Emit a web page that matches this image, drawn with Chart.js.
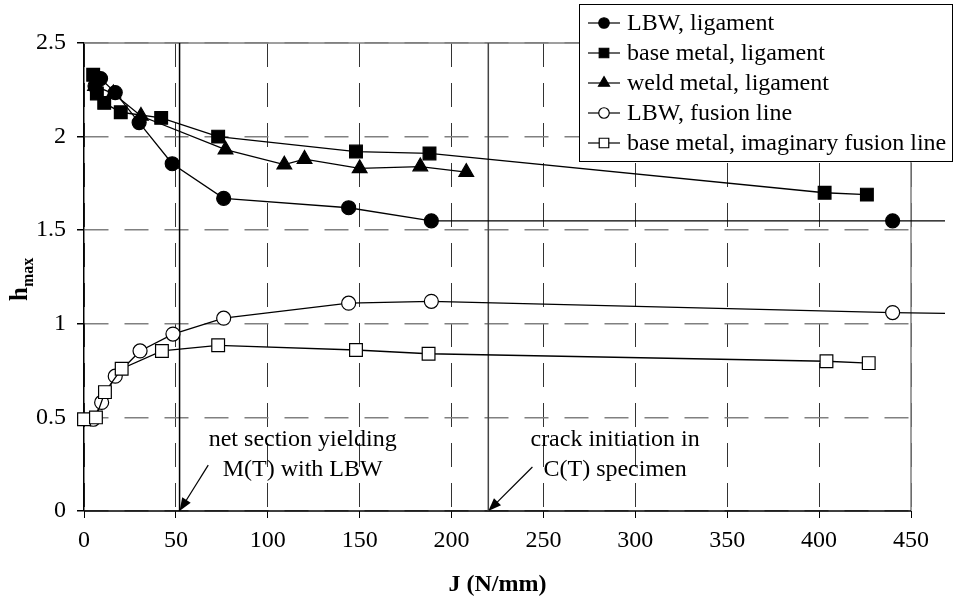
<!DOCTYPE html>
<html>
<head>
<meta charset="utf-8">
<script src="https://cdn.jsdelivr.net/npm/chart.js@4.4.0/dist/chart.umd.min.js"></script>
<style>
html, body { margin: 0; padding: 0; background: #fff; }
</style>
</head>
<body>
<canvas id="chart" width="954" height="599"></canvas>
<script>
// series (J in N/mm, h_max)
const seriesLabels = ['LBW, ligament', 'base metal, ligament', 'weld metal, ligament', 'LBW, fusion line', 'base metal, imaginary fusion line'];

const lbwLigJ = [6, 9, 17, 30, 48, 76, 144, 189, 440, 500];
const lbwLigH = [2.27, 2.31, 2.235, 2.075, 1.855, 1.67, 1.62, 1.55, 1.55, 1.55];

const baseLigJ = [5, 7, 11, 20, 42, 73, 148, 188, 403, 426];
const baseLigH = [2.33, 2.23, 2.18, 2.13, 2.10, 2.00, 1.92, 1.91, 1.70, 1.69];

const weldLigJ = [6, 16, 31, 77, 109, 120, 150, 183, 208];
const weldLigH = [2.27, 2.23, 2.11, 1.93, 1.85, 1.88, 1.83, 1.84, 1.81];

const lbwFusJ = [5, 9.6, 17, 30.5, 48.4, 76, 144, 189, 440, 500];
const lbwFusH = [0.49, 0.58, 0.72, 0.855, 0.945, 1.03, 1.11, 1.12, 1.06, 1.05];

const baseFusJ = [0, 6.5, 11.4, 20.5, 42.4, 73, 148, 187.5, 404, 427];
const baseFusH = [0.49, 0.50, 0.635, 0.76, 0.855, 0.885, 0.86, 0.84, 0.80, 0.79];

const xTickValues = [0, 50, 100, 150, 200, 250, 300, 350, 400, 450];
const xTickLabels = ['0', '50', '100', '150', '200', '250', '300', '350', '400', '450'];
const yTickValues = [0, 0.5, 1, 1.5, 2, 2.5];
const yTickLabels = ['0', '0.5', '1', '1.5', '2', '2.5'];

const xTitle = 'J (N/mm)';
const yTitleMain = 'h';
const yTitleSub = 'max';

// vertical reference lines and their notes
const markerJ = [52, 220];
const noteLines = [['net section yielding', 'M(T) with LBW'], ['crack initiation in', 'C(T) specimen']];
const noteJ = [119, 289];
const noteH = 0.38;
const arrowFrom = [[67.6, 0.245], [244, 0.235]];

const SERIF = '"Liberation Serif", "Times New Roman", serif';

function pts(js, hs) {
    return js.map((j, i) => ({ x: j, y: hs[i] }));
}

// marker look for each series
const markers = [
    { style: 'circle', r: 7, fill: '#000' },
    { style: 'rect', r: 9, fill: '#000' },
    { style: 'triangle', r: 8.5, fill: '#000' },
    { style: 'circle', r: 7, fill: '#fff' },
    { style: 'rect', r: 9, fill: '#fff' }
];
const seriesData = [
    pts(lbwLigJ, lbwLigH),
    pts(baseLigJ, baseLigH),
    pts(weldLigJ, weldLigH),
    pts(lbwFusJ, lbwFusH),
    pts(baseFusJ, baseFusH)
];

const datasets = seriesData.map((d, i) => ({
    label: seriesLabels[i],
    data: d,
    borderColor: '#000',
    borderWidth: 1.3,
    pointStyle: markers[i].style,
    pointRadius: markers[i].r,
    pointHoverRadius: markers[i].r,
    pointBackgroundColor: markers[i].fill,
    pointBorderColor: '#000',
    pointBorderWidth: 1.2,
    tension: 0,
    order: i === 4 ? -1 : 0,
    clip: { left: false, top: false, bottom: false, right: 34 }
}));

function drawMarker(ctx, style, x, y, r, fill) {
    ctx.beginPath();
    if (style === 'circle') {
        ctx.arc(x, y, r, 0, Math.PI * 2);
    } else if (style === 'rect') {
        const s = r * Math.SQRT1_2;
        ctx.rect(x - s, y - s, 2 * s, 2 * s);
    } else {
        ctx.moveTo(x, y - r);
        ctx.lineTo(x + r * 0.866, y + r / 2);
        ctx.lineTo(x - r * 0.866, y + r / 2);
        ctx.closePath();
    }
    ctx.fillStyle = fill;
    ctx.fill();
    ctx.lineWidth = 1.2;
    ctx.strokeStyle = '#000';
    ctx.stroke();
}

const decor = {
    id: 'decor',
    beforeDatasetsDraw(chart) {
        const { ctx, chartArea: a, scales: { x } } = chart;
        ctx.save();
        // top and right frame
        ctx.strokeStyle = '#808080';
        ctx.lineWidth = 1.5;
        ctx.beginPath();
        ctx.moveTo(a.left, a.top);
        ctx.lineTo(a.right, a.top);
        ctx.lineTo(a.right, a.bottom);
        ctx.stroke();
        // x axis line
        ctx.strokeStyle = '#000';
        ctx.beginPath();
        ctx.moveTo(a.left, a.bottom);
        ctx.lineTo(a.right, a.bottom);
        ctx.stroke();
        // solid reference lines
        markerJ.forEach((j, i) => {
            const px = x.getPixelForValue(j);
            ctx.strokeStyle = i === 0 ? '#000' : '#444';
            ctx.lineWidth = 1.5;
            ctx.beginPath();
            ctx.moveTo(px, a.top);
            ctx.lineTo(px, a.bottom);
            ctx.stroke();
        });
        ctx.restore();
    },
    afterDraw(chart) {
        const { ctx, scales: { x, y } } = chart;
        ctx.save();

        // notes with arrows
        ctx.font = '24px ' + SERIF;
        ctx.fillStyle = '#000';
        ctx.textAlign = 'center';
        ctx.textBaseline = 'middle';
        noteLines.forEach((lines, i) => {
            const cx = x.getPixelForValue(noteJ[i]);
            const cy = y.getPixelForValue(noteH);
            lines.forEach((t, k) => ctx.fillText(t, cx, cy + k * 30));

            const x1 = x.getPixelForValue(arrowFrom[i][0]);
            const y1 = y.getPixelForValue(arrowFrom[i][1]);
            const x2 = x.getPixelForValue(markerJ[i]);
            const y2 = y.getPixelForValue(0);
            const ang = Math.atan2(y2 - y1, x2 - x1);
            ctx.strokeStyle = '#000';
            ctx.lineWidth = 1.2;
            ctx.beginPath();
            ctx.moveTo(x1, y1);
            ctx.lineTo(x2 - 8 * Math.cos(ang), y2 - 8 * Math.sin(ang));
            ctx.stroke();
            ctx.beginPath();
            ctx.moveTo(x2, y2);
            ctx.lineTo(x2 - 13 * Math.cos(ang) + 5 * Math.sin(ang), y2 - 13 * Math.sin(ang) - 5 * Math.cos(ang));
            ctx.lineTo(x2 - 13 * Math.cos(ang) - 5 * Math.sin(ang), y2 - 13 * Math.sin(ang) + 5 * Math.cos(ang));
            ctx.closePath();
            ctx.fill();
        });

        // y axis title with subscript
        ctx.save();
        ctx.translate(27, 301);
        ctx.rotate(-Math.PI / 2);
        ctx.textAlign = 'left';
        ctx.textBaseline = 'alphabetic';
        ctx.font = 'bold 25px ' + SERIF;
        ctx.fillText(yTitleMain, 0, 0);
        const w = ctx.measureText(yTitleMain).width;
        ctx.font = 'bold 16px ' + SERIF;
        ctx.fillText(yTitleSub, w, 6);
        ctx.restore();

        // legend
        const lx = 579, ly = 4, lw = 374, lh = 158;
        ctx.fillStyle = '#fff';
        ctx.fillRect(lx, ly, lw, lh);
        ctx.strokeStyle = '#000';
        ctx.lineWidth = 1;
        ctx.strokeRect(lx + 0.5, ly + 0.5, lw - 1, lh - 1);
        ctx.font = '24px ' + SERIF;
        ctx.textAlign = 'left';
        ctx.textBaseline = 'middle';
        chart.data.datasets.forEach((ds, i) => {
            const ry = ly + 19 + i * 30;
            ctx.strokeStyle = '#000';
            ctx.lineWidth = 1.2;
            ctx.beginPath();
            ctx.moveTo(lx + 9, ry);
            ctx.lineTo(lx + 41, ry);
            ctx.stroke();
            const m = markers[i];
            drawMarker(ctx, m.style, lx + 25, ry, m.r * 0.75, m.fill);
            ctx.fillStyle = '#000';
            ctx.fillText(ds.label, lx + 48, ry + 1);
        });
        ctx.restore();
    }
};

new Chart(document.getElementById('chart'), {
    type: 'line',
    data: { datasets: datasets },
    options: {
        responsive: false,
        animation: false,
        events: [],
        layout: { padding: { top: 43, right: 43, left: 0, bottom: 0 } },
        plugins: {
            legend: { display: false },
            tooltip: { enabled: false }
        },
        scales: {
            x: {
                type: 'linear',
                min: 0,
                max: 450,
                afterFit: s => { s.height = 88; },
                afterBuildTicks: s => { s.ticks = xTickValues.map(v => ({ value: v })); },
                grid: {
                    color: '#333',
                    lineWidth: 1,
                    tickLength: 7,
                    tickColor: '#000',
                    tickBorderDash: []
                },
                border: { display: false, dash: [24, 16] },
                ticks: {
                    color: '#000',
                    padding: 8,
                    maxRotation: 0,
                    callback: (v, i) => xTickLabels[i],
                    font: { family: SERIF, size: 24 }
                },
                title: {
                    display: true,
                    text: xTitle,
                    color: '#000',
                    padding: 0,
                    font: { family: SERIF, size: 24, weight: 'bold' }
                }
            },
            y: {
                min: 0,
                max: 2.5,
                afterFit: s => { s.width = 84; },
                afterBuildTicks: s => { s.ticks = yTickValues.map(v => ({ value: v })); },
                grid: {
                    color: '#808080',
                    lineWidth: 1.5,
                    tickLength: 7,
                    tickColor: '#000',
                    tickBorderDash: []
                },
                border: { color: '#000', width: 1.5, dash: [24, 16] },
                ticks: {
                    color: '#000',
                    padding: 11,
                    callback: (v, i) => yTickLabels[i],
                    font: { family: SERIF, size: 24 }
                }
            }
        }
    },
    plugins: [decor]
});
</script>
</body>
</html>
